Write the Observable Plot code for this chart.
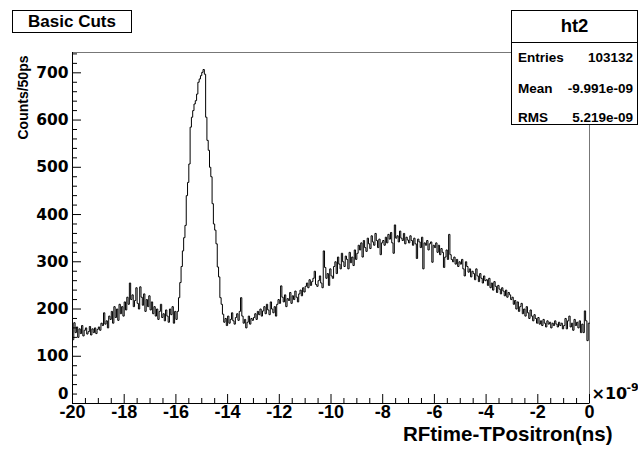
<!DOCTYPE html>
<html><head><meta charset="utf-8">
<script src="https://cdn.jsdelivr.net/npm/d3@7"></script>
<script src="https://cdn.jsdelivr.net/npm/@observablehq/plot@0.6"></script>
<style>
body{margin:0;background:#fff;}
#wrap{position:relative;width:638px;height:452px;font-family:"Liberation Sans",Arial,Helvetica,sans-serif;font-weight:bold;color:#000;}
.box{position:absolute;border:1px solid #000;background:#fff;box-sizing:border-box;}
.row{position:absolute;left:0;right:0;height:14px;line-height:14px;font-size:13.5px;}
.row .k{position:absolute;left:6px;}
.row .v{position:absolute;right:4px;}
</style></head><body><div id="wrap"></div>
<script>
// Histogram "ht2": RFtime-TPositron, 400 bins of 50 ps from -20 to 0 (x 1e-9)
const binStart = -20;
const binWidth = 0.05;
const counts = [
 135,171,150,162,140,158,148,165,143,155,160,147,152,163,145,158,150,160,148,157,
 162,155,170,165,192,168,175,160,185,178,195,170,205,182,200,176,210,190,205,185,
 215,198,225,210,255,220,230,205,218,245,212,200,247,225,208,232,195,220,205,228,
 198,215,190,205,185,200,178,195,210,182,190,175,198,185,172,200,188,205,170,195,
 178,195,224,256,290,323,351,377,440,468,507,585,606,620,634,641,655,680,687,694,
 701,707,697,606,557,536,500,480,423,380,367,338,289,268,224,210,189,172,180,165,
 185,170,178,192,175,168,182,190,176,195,224,185,170,178,160,172,185,168,180,176,
 182,190,178,195,188,200,185,196,205,190,210,198,188,215,200,192,205,185,210,220,
 212,249,225,215,230,205,222,218,235,212,228,220,238,225,215,232,240,228,245,236,
 248,255,245,262,250,258,265,280,252,248,260,270,255,245,323,288,265,275,250,285,
 270,265,290,300,275,310,295,285,318,300,290,312,305,285,320,298,310,292,325,305,
 318,335,325,340,310,345,330,322,350,338,328,355,342,335,360,345,330,348,315,340,
 345,335,352,340,358,348,362,340,318,378,350,355,342,365,350,345,360,338,352,346,
 340,355,345,335,350,338,307,348,342,330,352,285,340,335,345,325,338,342,299,335,
 330,340,320,335,315,328,320,288,310,325,305,358,315,305,300,310,295,305,290,300,
 295,305,285,270,300,290,278,285,268,280,275,262,285,270,258,275,265,255,270,260,
 262,250,265,245,255,240,258,248,235,250,242,232,245,238,228,240,225,235,230,220,
 225,210,218,200,215,195,205,212,190,200,185,205,192,180,198,185,175,188,180,170,
 182,168,175,165,178,170,162,175,168,172,160,170,165,175,168,162,172,165,170,158,
 165,180,158,175,185,162,170,155,178,165,172,160,175,150,168,150,196,175,133,170
];
const xTicks = [-20,-18,-16,-14,-12,-10,-8,-6,-4,-2,0];
const yTicks = [0,100,200,300,400,500,600,700];
const statNames = ["Entries","Mean","RMS"];
const statValues = ["103132","-9.991e-09","5.219e-09"];
const histName = "ht2";
const panelTitle = "Basic Cuts";
const xTitle = "RFtime-TPositron(ns)";
const yTitle = "Counts/50ps";

const W = 638, H = 452, mL = 72, mR = 49, mT = 52, mB = 49;
const innerW = W - mL - mR, innerH = H - mT - mB;

const pts = counts.map((c, i) => ({x: binStart + i * binWidth, y: c}));
pts.push({x: binStart + counts.length * binWidth, y: counts[counts.length - 1]});

const xMinor = d3.range(-20, 0.001, 0.5).filter(v => !xTicks.includes(v));
const yMinor = d3.range(0, 741, 20).filter(v => !yTicks.includes(v));

const lib = {fontFamily: '"Liberation Sans", Arial, Helvetica, sans-serif', fontWeight: "bold", fill: "#000"};
const dvu = {fontFamily: '"DejaVu Sans", sans-serif', fontWeight: "bold", fill: "#000"};

const chart = Plot.plot({
  width: W, height: H,
  marginLeft: mL, marginRight: mR, marginTop: mT, marginBottom: mB,
  x: {domain: [-20, 0], axis: null},
  y: {domain: [0, 743], axis: null},
  style: {background: "#fff", color: "#000", fontFamily: lib.fontFamily},
  marks: [
    Plot.frame({stroke: "#777"}),
    Plot.line(pts, {x: "x", y: "y", curve: "step-after", stroke: "#000", strokeWidth: 1}),
    Plot.ruleX([-20], {stroke: "#000"}),
    Plot.ruleY([0], {stroke: "#000"}),
    Plot.tickX(xTicks, {x: d => d, insetTop: innerH - 9, stroke: "#000"}),
    Plot.tickX(xMinor, {x: d => d, insetTop: innerH - 5, stroke: "#000"}),
    Plot.tickY(yTicks, {y: d => d, insetRight: innerW - 9, stroke: "#000"}),
    Plot.tickY(yMinor, {y: d => d, insetRight: innerW - 5, stroke: "#000"}),
    Plot.text(xTicks, {x: d => d, frameAnchor: "bottom", dy: 14, text: d => String(d), fontSize: 18, ...lib}),
    Plot.text(yTicks.filter(d => d > 0), {y: d => d, frameAnchor: "left", dx: -4, textAnchor: "end", text: d => String(d), fontSize: 15.5, ...dvu}),
    Plot.text([0], {y: d => d, frameAnchor: "left", dx: -4, dy: -9, textAnchor: "end", text: d => String(d), fontSize: 15, ...dvu}),
    Plot.text([xTitle], {frameAnchor: "bottom-right", dx: 23, dy: 37, textAnchor: "end", text: d => d, fontSize: 20.5, ...lib}),
    Plot.text([yTitle], {frameAnchor: "top-left", dx: -54, dy: 3, rotate: -90, textAnchor: "end", text: d => d, fontSize: 14, ...lib}),
    Plot.text(["\u00d710"], {frameAnchor: "bottom-right", dx: 2, dy: -5, textAnchor: "start", text: d => d, fontSize: 16, ...dvu}),
    Plot.text(["-9"], {frameAnchor: "bottom-right", dx: 37, dy: -13, textAnchor: "start", text: d => d, fontSize: 11, ...dvu})
  ]
});

const wrap = document.getElementById("wrap");
wrap.appendChild(chart);

// "Basic Cuts" label box
const tb = document.createElement("div");
tb.className = "box";
Object.assign(tb.style, {left: "12px", top: "10px", width: "120px", height: "23px", fontSize: "17px", lineHeight: "21px", textAlign: "center"});
tb.textContent = panelTitle;
wrap.appendChild(tb);

// statistics box
const sb = document.createElement("div");
sb.className = "box";
Object.assign(sb.style, {left: "511px", top: "10px", width: "127px", height: "115px"});
const head = document.createElement("div");
Object.assign(head.style, {position: "absolute", left: 0, right: 0, top: 0, height: "31px", lineHeight: "30px", fontSize: "18.5px", textAlign: "center", borderBottom: "1px solid #000"});
head.textContent = histName;
sb.appendChild(head);
const rowCenters = [47, 78, 107];
statNames.forEach((n, i) => {
  const r = document.createElement("div");
  r.className = "row";
  r.style.top = (rowCenters[i] - 7) + "px";
  r.innerHTML = `<span class="k">${n}</span><span class="v">${statValues[i]}</span>`;
  sb.appendChild(r);
});
wrap.appendChild(sb);
</script></body></html>
